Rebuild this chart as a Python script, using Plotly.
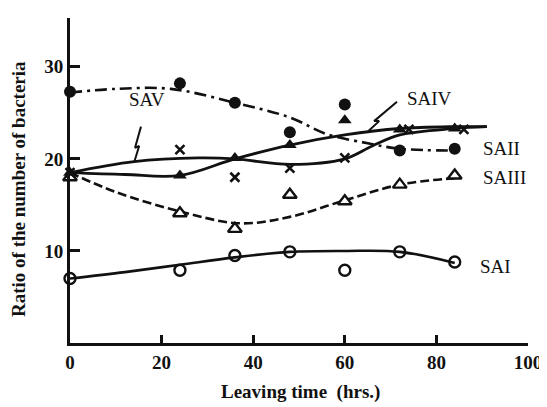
import plotly.graph_objects as go

# Measured points (Leaving time in hrs, ratio %)
t_pts = [0, 24, 36, 48, 60, 72, 84]
sai_pts = [7.0, 7.9, 9.5, 9.9, 7.9, 9.9, 8.8]
saii_pts = [27.3, 28.2, 26.1, 22.9, 25.9, 20.9, 21.1]
saiii_pts = [18.0, 14.1, 12.4, 16.1, 15.4, 17.2, 18.2]
saiv_pts = [18.5, 18.2, 20.1, 21.5, 24.2, 23.2, 23.3]
sav_t = [0, 24, 36, 48, 60, 74, 86]
sav_pts = [18.5, 21.0, 18.0, 19.0, 20.1, 23.2, 23.2]

# Fitted (hand-drawn) curves
sai_ct = [0, 12, 24, 36, 48, 60, 72, 84]
sai_cv = [7.0, 7.7, 8.5, 9.3, 9.9, 10.0, 9.9, 8.7]
saii_ct = [0, 10, 22, 36, 48, 56, 65, 72, 84]
saii_cv = [27.2, 27.6, 27.6, 26.1, 24.5, 22.7, 21.7, 21.1, 20.9]
saiii_ct = [0, 10, 24, 37, 48, 60, 72, 84]
saiii_cv = [18.5, 16.4, 14.3, 13.0, 13.7, 15.5, 17.2, 17.9]
saiv_ct = [0, 12, 24, 36, 48, 60, 72, 84, 91]
saiv_cv = [18.5, 18.3, 18.2, 20.0, 21.5, 22.6, 23.3, 23.5, 23.5]
sav_ct = [0, 14, 28, 36, 48, 60, 66, 72, 84, 91]
sav_cv = [18.5, 19.7, 20.1, 20.0, 19.4, 20.0, 21.4, 22.6, 23.3, 23.5]

labels = ["SAI", "SAII", "SAIII", "SAIV", "SAV"]
label_x = [92.8, 94.3, 94.8, 78.6, 16.8]
label_y = [8.3, 21.1, 18.0, 26.6, 26.4]

x_ticks = [0, 20, 40, 60, 80, 100]
y_ticks = [10, 20, 30]

BLACK = "#111111"
SERIF = "Liberation Serif"
fig = go.Figure()

def curve(x, y, dash="solid", w=2.6):
    fig.add_trace(go.Scatter(x=x, y=y, mode="lines", line=dict(color=BLACK, width=w, dash=dash, shape="spline", smoothing=1.0),
                             hoverinfo="skip", showlegend=False, cliponaxis=False))

def pts(x, y, symbol, size, lw=0, fill=BLACK):
    fig.add_trace(go.Scatter(x=x, y=y, mode="markers",
                             marker=dict(symbol=symbol, size=size, color=fill, line=dict(color=BLACK, width=lw)),
                             showlegend=False, cliponaxis=False))

curve(sai_ct, sai_cv)
curve(saii_ct, saii_cv, dash="12px,5px,3px,5px")
curve(saiii_ct, saiii_cv, dash="9px,4px")
curve(saiv_ct, saiv_cv, w=2.8)
curve(sav_ct, sav_cv, w=2.8)

pts(t_pts, sai_pts, "circle-open", 11, 2.4)
pts(t_pts, saii_pts, "circle", 12)
pts(t_pts, saiii_pts, "triangle-up", 12, 2.4, fill="white")
pts(t_pts, saiv_pts, "triangle-up", 12)
pts(sav_t, sav_pts, "x-thin-open", 9, 2.6)

# lightning arrows
fig.add_trace(go.Scatter(x=[15.5, 14.2, 15.1, 14.0], y=[23.5, 21.2, 21.4, 19.6], mode="lines",
                         line=dict(color=BLACK, width=2), showlegend=False, hoverinfo="skip"))
fig.add_trace(go.Scatter(x=[71.4, 66.4, 67.5, 65.1], y=[26.2, 24.1, 24.1, 23.0], mode="lines",
                         line=dict(color=BLACK, width=2), showlegend=False, hoverinfo="skip"))

for lab, lx, ly in zip(labels, label_x, label_y):
    fig.add_annotation(x=lx, y=ly, text=lab, showarrow=False,
                       font=dict(family=SERIF, size=19, color=BLACK))

fig.add_annotation(x=-3.5, y=35.6, text="<b>%</b>", showarrow=False, xanchor="center", yanchor="middle",
                   font=dict(family=SERIF, size=19, color=BLACK))

# axis titles (positions in page pixels relative to the plot area 70..528 x 18..343)
fig.add_annotation(xref="paper", yref="paper", x=(300 - 70) / 458, y=(343 - 392) / 325,
                   text="<b>Leaving time  (hrs.)</b>", showarrow=False, xanchor="center", yanchor="middle",
                   font=dict(family=SERIF, size=19, color=BLACK))
fig.add_annotation(xref="paper", yref="paper", x=(18 - 70) / 458, y=(343 - 189) / 325,
                   text="<b>Ratio of the number of bacteria</b>", showarrow=False, textangle=-90,
                   xanchor="center", yanchor="middle",
                   font=dict(family=SERIF, size=19, color=BLACK))

# page body has an 8px default margin: figure is 8px smaller, left/top margins reduced by 8
fig.update_layout(
    width=539, height=399,
    margin=dict(l=62, r=19, t=10, b=64, autoexpand=False),
    paper_bgcolor="white", plot_bgcolor="white",
    font=dict(family=SERIF, color=BLACK),
    xaxis=dict(range=[0, 100], tickvals=x_ticks, ticktext=["<b>%d</b>" % v for v in x_ticks],
               showgrid=False, zeroline=False, showline=True, linecolor=BLACK, linewidth=3,
               ticks="inside", ticklen=8, tickwidth=3, tickcolor=BLACK, automargin=False,
               tickfont=dict(family=SERIF, size=19, color=BLACK)),
    yaxis=dict(range=[0, 35.3], tickvals=y_ticks, ticktext=["<b>%d</b>" % v for v in y_ticks],
               showgrid=False, zeroline=False, showline=True, linecolor=BLACK, linewidth=3,
               ticks="inside", ticklen=10, tickwidth=3, tickcolor=BLACK, automargin=False,
               tickfont=dict(family=SERIF, size=19, color=BLACK)),
)

fig.write_html("out.html")
